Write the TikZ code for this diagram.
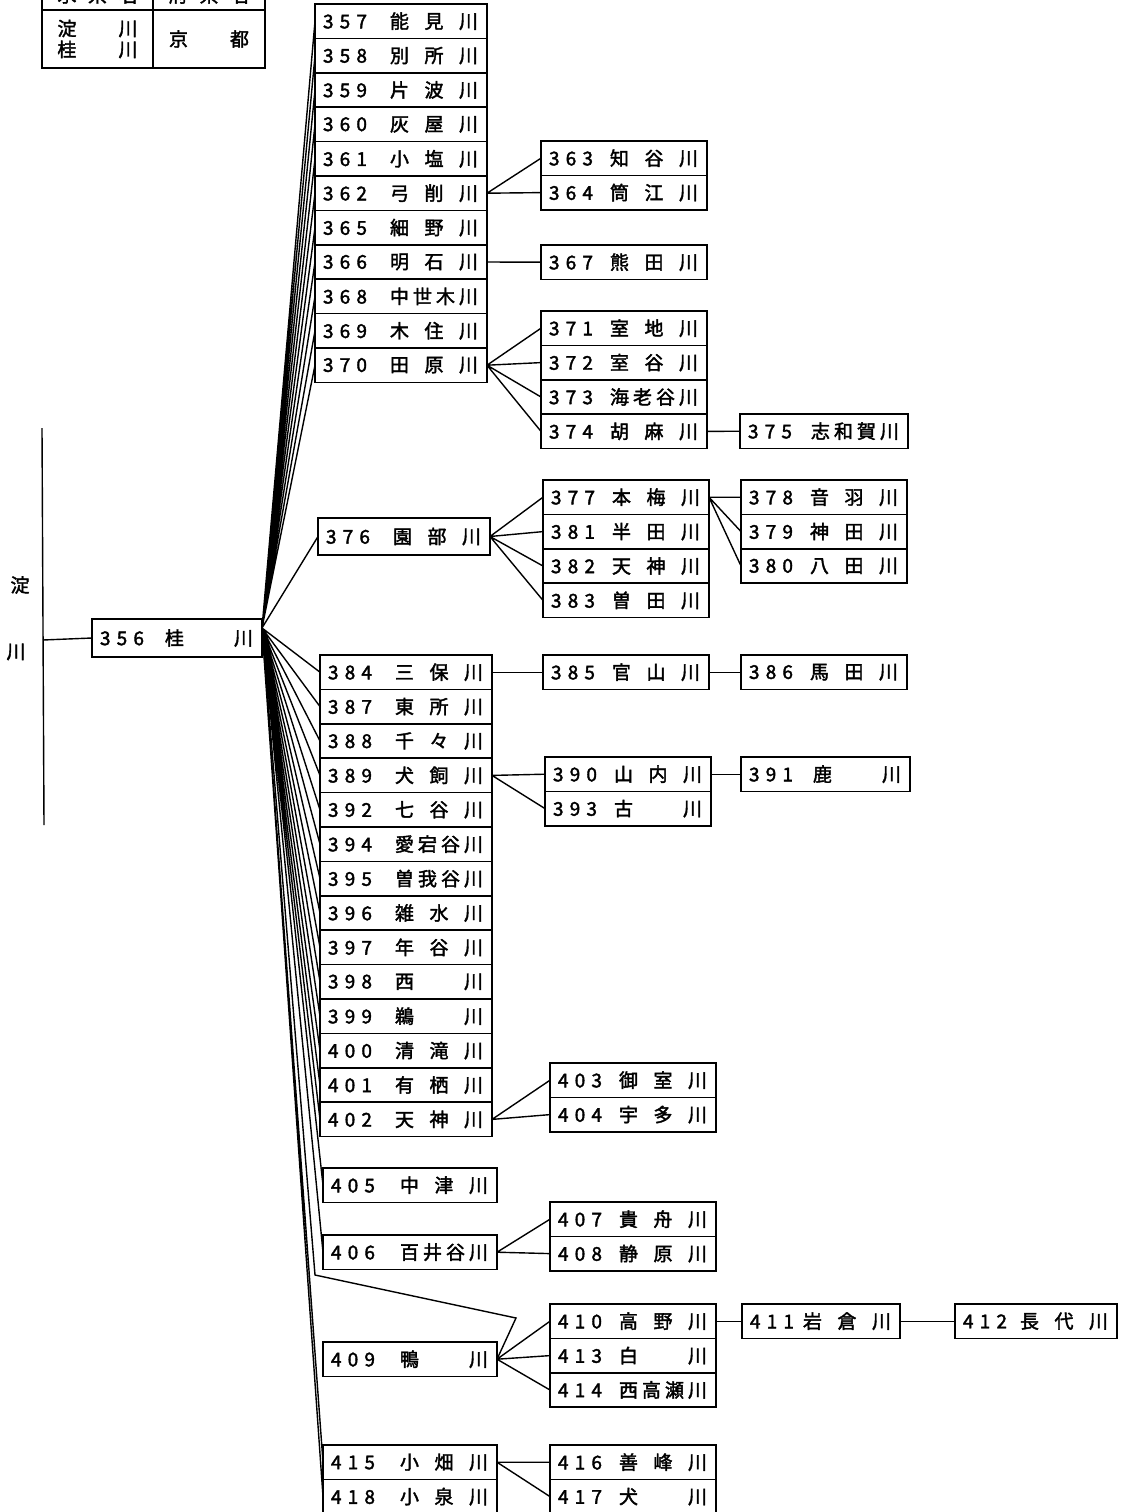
\documentclass[tikz,border=0pt]{standalone}
\usepackage{fontspec}
\newfontfamily\jp[FakeBold=2]{Noto Sans CJK JP}
\usetikzlibrary{positioning}

% number left, name spread over a fixed width
\newcommand\rl[3]{\makebox[#1][l]{\hspace{8pt}\makebox[44pt][s]{#2}\hfill\makebox[88pt][s]{#3}\hspace{9pt}}}
\newcommand\rw[2]{\rl{172pt}{#1}{#2}}
\newcommand\rn[2]{\rl{166pt}{#1}{#2}}

\begin{document}
\begin{tikzpicture}
  [x=1pt, y=-1pt, line width=1.4pt,
   every node/.style = {font=\jp\fontsize{19}{19}\selectfont},
   rv/.style = {draw, line width=1.6pt, inner sep=0pt, outer sep=0pt,
                minimum height=34.4pt, anchor=north west},
   wide/.style = {rv, minimum width=172pt},
   narrow/.style = {rv, minimum width=166pt}]
  \useasboundingbox (0,0) rectangle (1130,1512);
  \clip (0,0) rectangle (1130,1512);

  % key table, top left
  \node (hl) [rv, minimum width=111pt, minimum height=30pt] at (42,-20) {\makebox[80pt][s]{水 系 名}};
  \node (hr) [rv, minimum width=112pt, minimum height=30pt] at (153,-20) {\makebox[80pt][s]{府 県 名}};
  \node (bl) [rv, minimum width=111pt, minimum height=58pt, align=center] at (42,10)
    {\makebox[80pt][s]{淀 川}\\[2pt]\makebox[80pt][s]{桂 川}};
  \node (br) [rv, minimum width=112pt, minimum height=58pt] at (153,10) {\makebox[80pt][s]{京 都}};

  % main stem
  \node (yodo) at (20,585) {淀};
  \node (kawa) at (16,652) {川};
  \coordinate (st) at (42,428);
  \coordinate (sb) at (44,825);
  \coordinate (j) at (43,640);
  \draw (st) -- (sb);
  \node (r356) [rv, minimum width=170pt, minimum height=38pt] at (92,619) {\rl{170pt}{3 5 6}{桂 \ \ \ 川}};
  \draw (j) -- (r356.west);
  \coordinate (o) at ([yshift=-9pt]r356.north east);

  % first column
  \node (r357) [wide] at (315,4) {\rw{3 5 7}{能 見 川}};
  \node (r358) [wide, below=0pt of r357] {\rw{3 5 8}{別 所 川}};
  \node (r359) [wide, below=0pt of r358] {\rw{3 5 9}{片 波 川}};
  \node (r360) [wide, below=0pt of r359] {\rw{3 6 0}{灰 屋 川}};
  \node (r361) [wide, below=0pt of r360] {\rw{3 6 1}{小 塩 川}};
  \node (r362) [wide, below=0pt of r361] {\rw{3 6 2}{弓 削 川}};
  \node (r365) [wide, below=0pt of r362] {\rw{3 6 5}{細 野 川}};
  \node (r366) [wide, below=0pt of r365] {\rw{3 6 6}{明 石 川}};
  \node (r368) [wide, below=0pt of r366] {\rw{3 6 8}{中 世 木 川}};
  \node (r369) [wide, below=0pt of r368] {\rw{3 6 9}{木 住 川}};
  \node (r370) [wide, below=0pt of r369] {\rw{3 7 0}{田 原 川}};

  \node (r376) [wide, minimum height=37pt] at (318,518) {\rw{3 7 6}{園 部 川}};

  \node (r384) [wide] at (320,655) {\rw{3 8 4}{三 保 川}};
  \node (r387) [wide, below=0pt of r384] {\rw{3 8 7}{東 所 川}};
  \node (r388) [wide, below=0pt of r387] {\rw{3 8 8}{千 々 川}};
  \node (r389) [wide, below=0pt of r388] {\rw{3 8 9}{犬 飼 川}};
  \node (r392) [wide, below=0pt of r389] {\rw{3 9 2}{七 谷 川}};
  \node (r394) [wide, below=0pt of r392] {\rw{3 9 4}{愛 宕 谷 川}};
  \node (r395) [wide, below=0pt of r394] {\rw{3 9 5}{曽 我 谷 川}};
  \node (r396) [wide, below=0pt of r395] {\rw{3 9 6}{雑 水 川}};
  \node (r397) [wide, below=0pt of r396] {\rw{3 9 7}{年 谷 川}};
  \node (r398) [wide, below=0pt of r397] {\rw{3 9 8}{西 川}};
  \node (r399) [wide, below=0pt of r398] {\rw{3 9 9}{鵜 川}};
  \node (r400) [wide, below=0pt of r399] {\rw{4 0 0}{清 滝 川}};
  \node (r401) [wide, below=0pt of r400] {\rw{4 0 1}{有 栖 川}};
  \node (r402) [wide, below=0pt of r401] {\rw{4 0 2}{天 神 川}};

  \node (r405) [rv, minimum width=174pt] at (323,1168) {\rl{174pt}{4 0 5}{中 津 川}};
  \node (r406) [rv, minimum width=174pt] at (323,1235) {\rl{174pt}{4 0 6}{百 井 谷 川}};
  \node (r409) [rv, minimum width=174pt] at (323,1342) {\rl{174pt}{4 0 9}{鴨 川}};
  \node (r415) [rv, minimum width=174pt] at (323,1445) {\rl{174pt}{4 1 5}{小 畑 川}};
  \node (r418) [rv, minimum width=174pt, below=0pt of r415] {\rl{174pt}{4 1 8}{小 泉 川}};

  % second column
  \node (r363) [narrow] at (541,141) {\rn{3 6 3}{知 谷 川}};
  \node (r364) [narrow, below=0pt of r363] {\rn{3 6 4}{筒 江 川}};
  \node (r367) [narrow] at (541,245) {\rn{3 6 7}{熊 田 川}};
  \node (r371) [narrow] at (541,311) {\rn{3 7 1}{室 地 川}};
  \node (r372) [narrow, below=0pt of r371] {\rn{3 7 2}{室 谷 川}};
  \node (r373) [narrow, below=0pt of r372] {\rn{3 7 3}{海 老 谷 川}};
  \node (r374) [narrow, below=0pt of r373] {\rn{3 7 4}{胡 麻 川}};
  \node (r377) [narrow] at (543,480) {\rn{3 7 7}{本 梅 川}};
  \node (r381) [narrow, below=0pt of r377] {\rn{3 8 1}{半 田 川}};
  \node (r382) [narrow, below=0pt of r381] {\rn{3 8 2}{天 神 川}};
  \node (r383) [narrow, below=0pt of r382] {\rn{3 8 3}{曽 田 川}};
  \node (r385) [narrow] at (543,655) {\rn{3 8 5}{官 山 川}};
  \node (r390) [narrow] at (545,757) {\rn{3 9 0}{山 内 川}};
  \node (r393) [narrow, below=0pt of r390] {\rn{3 9 3}{古 川}};
  \node (r403) [narrow] at (550,1063) {\rn{4 0 3}{御 室 川}};
  \node (r404) [narrow, below=0pt of r403] {\rn{4 0 4}{宇 多 川}};
  \node (r407) [narrow] at (550,1202) {\rn{4 0 7}{貴 舟 川}};
  \node (r408) [narrow, below=0pt of r407] {\rn{4 0 8}{静 原 川}};
  \node (r410) [narrow] at (550,1304) {\rn{4 1 0}{高 野 川}};
  \node (r413) [narrow, below=0pt of r410] {\rn{4 1 3}{白 川}};
  \node (r414) [narrow, below=0pt of r413] {\rn{4 1 4}{西 高 瀬 川}};
  \node (r416) [narrow] at (550,1445) {\rn{4 1 6}{善 峰 川}};
  \node (r417) [narrow, below=0pt of r416] {\rn{4 1 7}{犬 川}};

  % third and fourth columns
  \node (r375) [narrow, minimum width=168pt] at (740,414) {\rl{168pt}{3 7 5}{志 和 賀 川}};
  \node (r378) [narrow] at (741,480) {\rn{3 7 8}{音 羽 川}};
  \node (r379) [narrow, below=0pt of r378] {\rn{3 7 9}{神 田 川}};
  \node (r380) [narrow, below=0pt of r379] {\rn{3 8 0}{八 田 川}};
  \node (r386) [narrow] at (741,655) {\rn{3 8 6}{馬 田 川}};
  \node (r391) [narrow, minimum width=169pt] at (741,757) {\rl{169pt}{3 9 1}{鹿 川}};
  \node (r411) [narrow, minimum width=158pt] at (742,1304) {\rl{158pt}{4 1 1}{岩 倉 川}};
  \node (r412) [narrow, minimum width=162pt] at (955,1304) {\rl{162pt}{4 1 2}{長 代 川}};

  % fan from the Katsura
  \draw (o) -- (r357.west) (o) -- (r358.west) (o) -- (r359.west) (o) -- (r360.west)
        (o) -- (r361.west) (o) -- (r362.west) (o) -- (r365.west) (o) -- (r366.west)
        (o) -- (r368.west) (o) -- (r369.west) (o) -- (r370.west) (o) -- (r376.west);
  \draw (o) -- (r384.west) (o) -- (r387.west) (o) -- (r388.west) (o) -- (r389.west)
        (o) -- (r392.west) (o) -- (r394.west) (o) -- (r395.west) (o) -- (r396.west)
        (o) -- (r397.west) (o) -- (r398.west) (o) -- (r399.west) (o) -- (r400.west)
        (o) -- (r401.west) (o) -- (r402.west) (o) -- (r405.west) (o) -- (r406.west)
        (o) -- (r415.west) (o) -- (r418.west);
  \coordinate (k1) at (315,1275);
  \coordinate (k2) at (516,1318);
  \draw (o) -- (k1) -- (k2) -- (r409.east);

  % tributaries
  \draw (r362.east) -- (r363.west) (r362.east) -- (r364.west);
  \draw (r366.east) -- (r367.west);
  \draw (r370.east) -- (r371.west) (r370.east) -- (r372.west)
        (r370.east) -- (r373.west) (r370.east) -- (r374.west);
  \draw (r374.east) -- (r375.west);
  \draw (r376.east) -- (r377.west) (r376.east) -- (r381.west)
        (r376.east) -- (r382.west) (r376.east) -- (r383.west);
  \draw (r377.east) -- (r378.west) (r377.east) -- (r379.west) (r377.east) -- (r380.west);
  \draw (r384.east) -- (r385.west);
  \draw (r385.east) -- (r386.west);
  \draw (r389.east) -- (r390.west) (r389.east) -- (r393.west);
  \draw (r390.east) -- (r391.west);
  \draw (r402.east) -- (r403.west) (r402.east) -- (r404.west);
  \draw (r406.east) -- (r407.west) (r406.east) -- (r408.west);
  \draw (r409.east) -- (r410.west) (r409.east) -- (r413.west) (r409.east) -- (r414.west);
  \draw (r410.east) -- (r411.west);
  \draw (r411.east) -- (r412.west);
  \draw (r415.east) -- (r416.west) (r415.east) -- (r417.west);
\end{tikzpicture}
\end{document}
